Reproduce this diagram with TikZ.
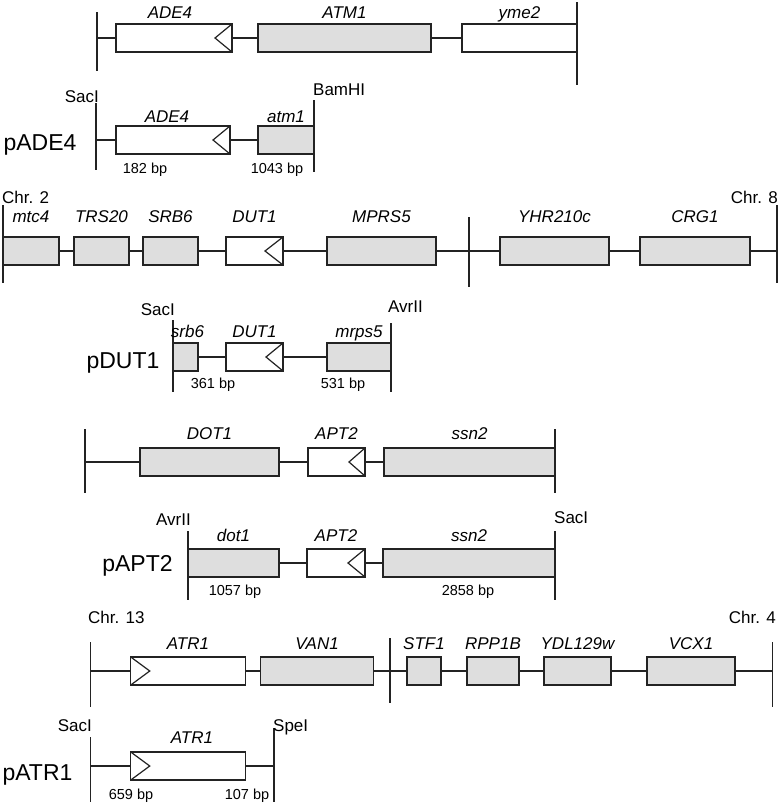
\documentclass[tikz,border=0pt]{standalone}
\usepackage{fontspec}
\setmainfont{Liberation Sans}
\usetikzlibrary{positioning}
\definecolor{genegray}{RGB}{222,222,222}
\definecolor{ink}{RGB}{35,35,35}
\tikzset{
  gene/.style={draw=ink, line width=1.2pt, fill=genegray, minimum height=28pt, inner sep=0pt, outer sep=0pt},
  orf/.style={gene, fill=white},
  genename/.style={anchor=base, inner sep=0pt, font=\fontsize{17}{19}\selectfont\itshape},
  bpsize/.style={anchor=base, inner sep=0pt, font=\fontsize{14.5}{16}\selectfont},
  site/.style={inner sep=0pt, font=\fontsize{17}{19}\selectfont},
  plasmid/.style={anchor=base, inner sep=0pt, font=\fontsize{23}{26}\selectfont},
  bar/.style={line width=1.4pt, draw=ink},
  chain/.style={line width=1.2pt, draw=ink},
}
\begin{document}
\begin{tikzpicture}[x=1pt, y=-1pt]
  \useasboundingbox (0,0) rectangle (779,806);

  % ADE4 locus
  \draw[bar] (97,12) -- (97,71);
  \draw[bar] (577,2) -- (577,85);
  \coordinate (l1) at (97,38);
  \node[orf, minimum width=116pt] (ade4) at (174,38) {};
  \node[gene, minimum width=173pt] (atm1) at (344.5,38) {};
  \node[orf, minimum width=115pt] (yme2) at (519.5,38) {};
  \draw[chain] (l1) -- (ade4) -- (atm1) -- (yme2);
  \draw[chain] (ade4.north east) -- ([xshift=-17pt]ade4.east) -- (ade4.south east);
  \node[genename] (ade4-t) at ([xshift=-4pt, yshift=6pt]ade4.north) {ADE4};
  \node[genename] (atm1-t) at ([yshift=6pt]atm1.north) {ATM1};
  \node[genename] (yme2-t) at ([yshift=6pt]yme2.north) {yme2};

  % pADE4
  \draw[bar] (96,103) -- (96,170);
  \draw[bar] (314,100) -- (314,172);
  \coordinate (l2) at (96,140);
  \node[orf, minimum width=114pt] (ade4p) at (173,140) {};
  \node[gene, minimum width=56pt] (atm1p) at (286,140) {};
  \draw[chain] (l2) -- (ade4p) -- (atm1p);
  \draw[chain] (ade4p.north east) -- ([xshift=-17pt]ade4p.east) -- (ade4p.south east);
  \node[genename] (ade4p-t) at ([xshift=-6pt, yshift=4pt]ade4p.north) {ADE4};
  \node[genename] (atm1p-t) at ([yshift=4pt]atm1p.north) {atm1};
  \node[site, anchor=base east] (sac1) at (99,102) {SacI};
  \node[site, anchor=base west] (bam1) at (313,95) {BamHI};
  \node[plasmid] (pade4) at (40,150) {pADE4};
  \node[bpsize] (bp182) at (145,173) {182 bp};
  \node[bpsize] (bp1043) at (277,173) {1043 bp};

  % DUT1 locus, Chr. 2 / Chr. 8
  \draw[bar] (3,205) -- (3,283);
  \draw[bar] (469,217) -- (469,287);
  \draw[bar] (777,205) -- (777,283);
  \coordinate (l3) at (3,251);
  \coordinate (r3) at (777,251);
  \node[gene, minimum width=56pt] (mtc4) at (31,251) {};
  \node[gene, minimum width=55pt] (trs20) at (101.5,251) {};
  \node[gene, minimum width=55pt] (srb6) at (170.5,251) {};
  \node[orf, minimum width=57pt] (dut1) at (254.5,251) {};
  \node[gene, minimum width=109pt] (mprs5) at (381.5,251) {};
  \node[gene, minimum width=109pt] (yhr210c) at (554.5,251) {};
  \node[gene, minimum width=110pt] (crg1) at (695,251) {};
  \draw[chain] (l3) -- (mtc4) -- (trs20) -- (srb6) -- (dut1) -- (mprs5) -- (yhr210c) -- (crg1) -- (r3);
  \draw[chain] (dut1.north east) -- ([xshift=-18pt]dut1.east) -- (dut1.south east);
  \node[genename] (mtc4-t) at ([yshift=15pt]mtc4.north) {mtc4};
  \node[genename] (trs20-t) at ([yshift=15pt]trs20.north) {TRS20};
  \node[genename] (srb6-t) at ([yshift=15pt]srb6.north) {SRB6};
  \node[genename] (dut1-t) at ([yshift=15pt]dut1.north) {DUT1};
  \node[genename] (mprs5-t) at ([yshift=15pt]mprs5.north) {MPRS5};
  \node[genename] (yhr210c-t) at ([yshift=15pt]yhr210c.north) {YHR210c};
  \node[genename] (crg1-t) at ([yshift=15pt]crg1.north) {CRG1};
  \node[site, anchor=base west] (chr2) at (2,203) {Chr. 2};
  \node[site, anchor=base east] (chr8) at (778,203) {Chr. 8};

  % pDUT1
  \draw[bar] (173,320) -- (173,392);
  \draw[bar] (391,323) -- (391,392);
  \node[gene, minimum width=25pt] (srb6p) at (185.5,357) {};
  \node[orf, minimum width=57pt] (dut1p) at (254.5,357) {};
  \node[gene, minimum width=64pt] (mrps5p) at (359,357) {};
  \draw[chain] (srb6p) -- (dut1p) -- (mrps5p);
  \draw[chain] (dut1p.north east) -- ([xshift=-17pt]dut1p.east) -- (dut1p.south east);
  \node[genename] (srb6p-t) at ([xshift=2pt, yshift=6pt]srb6p.north) {srb6};
  \node[genename] (dut1p-t) at ([yshift=6pt]dut1p.north) {DUT1};
  \node[genename] (mrps5p-t) at ([yshift=6pt]mrps5p.north) {mrps5};
  \node[site, anchor=base east] (sac2) at (175,315) {SacI};
  \node[site, anchor=base west] (avr1) at (388,312) {AvrII};
  \node[plasmid] (pdut1) at (123,368) {pDUT1};
  \node[bpsize] (bp361) at (213,388) {361 bp};
  \node[bpsize] (bp531) at (343,388) {531 bp};

  % APT2 locus
  \draw[bar] (85,429) -- (85,493);
  \draw[bar] (555,429) -- (555,493);
  \coordinate (l5) at (85,462);
  \node[gene, minimum width=139pt] (dot1) at (209.5,462) {};
  \node[orf, minimum width=57pt] (apt2) at (336.5,462) {};
  \node[gene, minimum width=171pt] (ssn2) at (469.5,462) {};
  \draw[chain] (l5) -- (dot1) -- (apt2) -- (ssn2);
  \draw[chain] (apt2.north east) -- ([xshift=-16pt]apt2.east) -- (apt2.south east);
  \node[genename] (dot1-t) at ([yshift=9pt]dot1.north) {DOT1};
  \node[genename] (apt2-t) at ([yshift=9pt]apt2.north) {APT2};
  \node[genename] (ssn2-t) at ([yshift=9pt]ssn2.north) {ssn2};

  % pAPT2
  \draw[bar] (188,531) -- (188,600);
  \draw[bar] (555,531) -- (555,600);
  \node[gene, minimum width=91pt] (dot1p) at (233.5,563) {};
  \node[orf, minimum width=58pt] (apt2p) at (336,563) {};
  \node[gene, minimum width=172pt] (ssn2p) at (469,563) {};
  \draw[chain] (dot1p) -- (apt2p) -- (ssn2p);
  \draw[chain] (apt2p.north east) -- ([xshift=-17pt]apt2p.east) -- (apt2p.south east);
  \node[genename] (dot1p-t) at ([yshift=8pt]dot1p.north) {dot1};
  \node[genename] (apt2p-t) at ([yshift=8pt]apt2p.north) {APT2};
  \node[genename] (ssn2p-t) at ([yshift=8pt]ssn2p.north) {ssn2};
  \node[site, anchor=base east] (avr2) at (191,525) {AvrII};
  \node[site, anchor=base west] (sac3) at (554,523) {SacI};
  \node[plasmid] (papt2) at (137.5,571) {pAPT2};
  \node[bpsize] (bp1057) at (235,595) {1057 bp};
  \node[bpsize] (bp2858) at (468,595) {2858 bp};

  % ATR1 locus, Chr. 13 / Chr. 4
  \draw[bar] (90.5,642) -- (90.5,707);
  \draw[bar] (390,638) -- (390,703);
  \draw[bar] (772.5,642) -- (772.5,707);
  \coordinate (l7) at (90.5,671);
  \coordinate (r7) at (772.5,671);
  \node[orf, minimum width=114.5pt] (atr1) at (188,671) {};
  \node[gene, minimum width=112.5pt] (van1) at (317,671) {};
  \node[gene, minimum width=34pt] (stf1) at (424,671) {};
  \node[gene, minimum width=52pt] (rpp1b) at (493,671) {};
  \node[gene, minimum width=67pt] (ydl129w) at (577.5,671) {};
  \node[gene, minimum width=88pt] (vcx1) at (691,671) {};
  \draw[chain] (l7) -- (atr1) -- (van1) -- (stf1) -- (rpp1b) -- (ydl129w) -- (vcx1) -- (r7);
  \draw[chain] (atr1.north west) -- ([xshift=19pt]atr1.west) -- (atr1.south west);
  \node[genename] (atr1-t) at ([yshift=8pt]atr1.north) {ATR1};
  \node[genename] (van1-t) at ([yshift=8pt]van1.north) {VAN1};
  \node[genename] (stf1-t) at ([yshift=8pt]stf1.north) {STF1};
  \node[genename] (rpp1b-t) at ([yshift=8pt]rpp1b.north) {RPP1B};
  \node[genename] (ydl129w-t) at ([yshift=8pt]ydl129w.north) {YDL129w};
  \node[genename] (vcx1-t) at ([yshift=8pt]vcx1.north) {VCX1};
  \node[site, anchor=base west] (chr13) at (88,623) {Chr. 13};
  \node[site, anchor=base east] (chr4) at (776,623) {Chr. 4};

  % pATR1
  \draw[bar] (90.5,737) -- (90.5,802);
  \draw[bar] (274,728) -- (274,802);
  \coordinate (l8) at (90.5,766);
  \coordinate (r8) at (274,766);
  \node[orf, minimum width=114.5pt] (atr1p) at (188,766) {};
  \draw[chain] (l8) -- (atr1p) -- (r8);
  \draw[chain] (atr1p.north west) -- ([xshift=19pt]atr1p.west) -- (atr1p.south west);
  \node[genename] (atr1p-t) at ([xshift=4pt, yshift=9pt]atr1p.north) {ATR1};
  \node[site, anchor=base east] (sac4) at (92,731) {SacI};
  \node[site, anchor=base west] (spe1) at (273,731) {SpeI};
  \node[plasmid] (patr1) at (37.5,780) {pATR1};
  \node[bpsize] (bp659) at (131,799) {659 bp};
  \node[bpsize] (bp107) at (247,799) {107 bp};
\end{tikzpicture}
\end{document}
